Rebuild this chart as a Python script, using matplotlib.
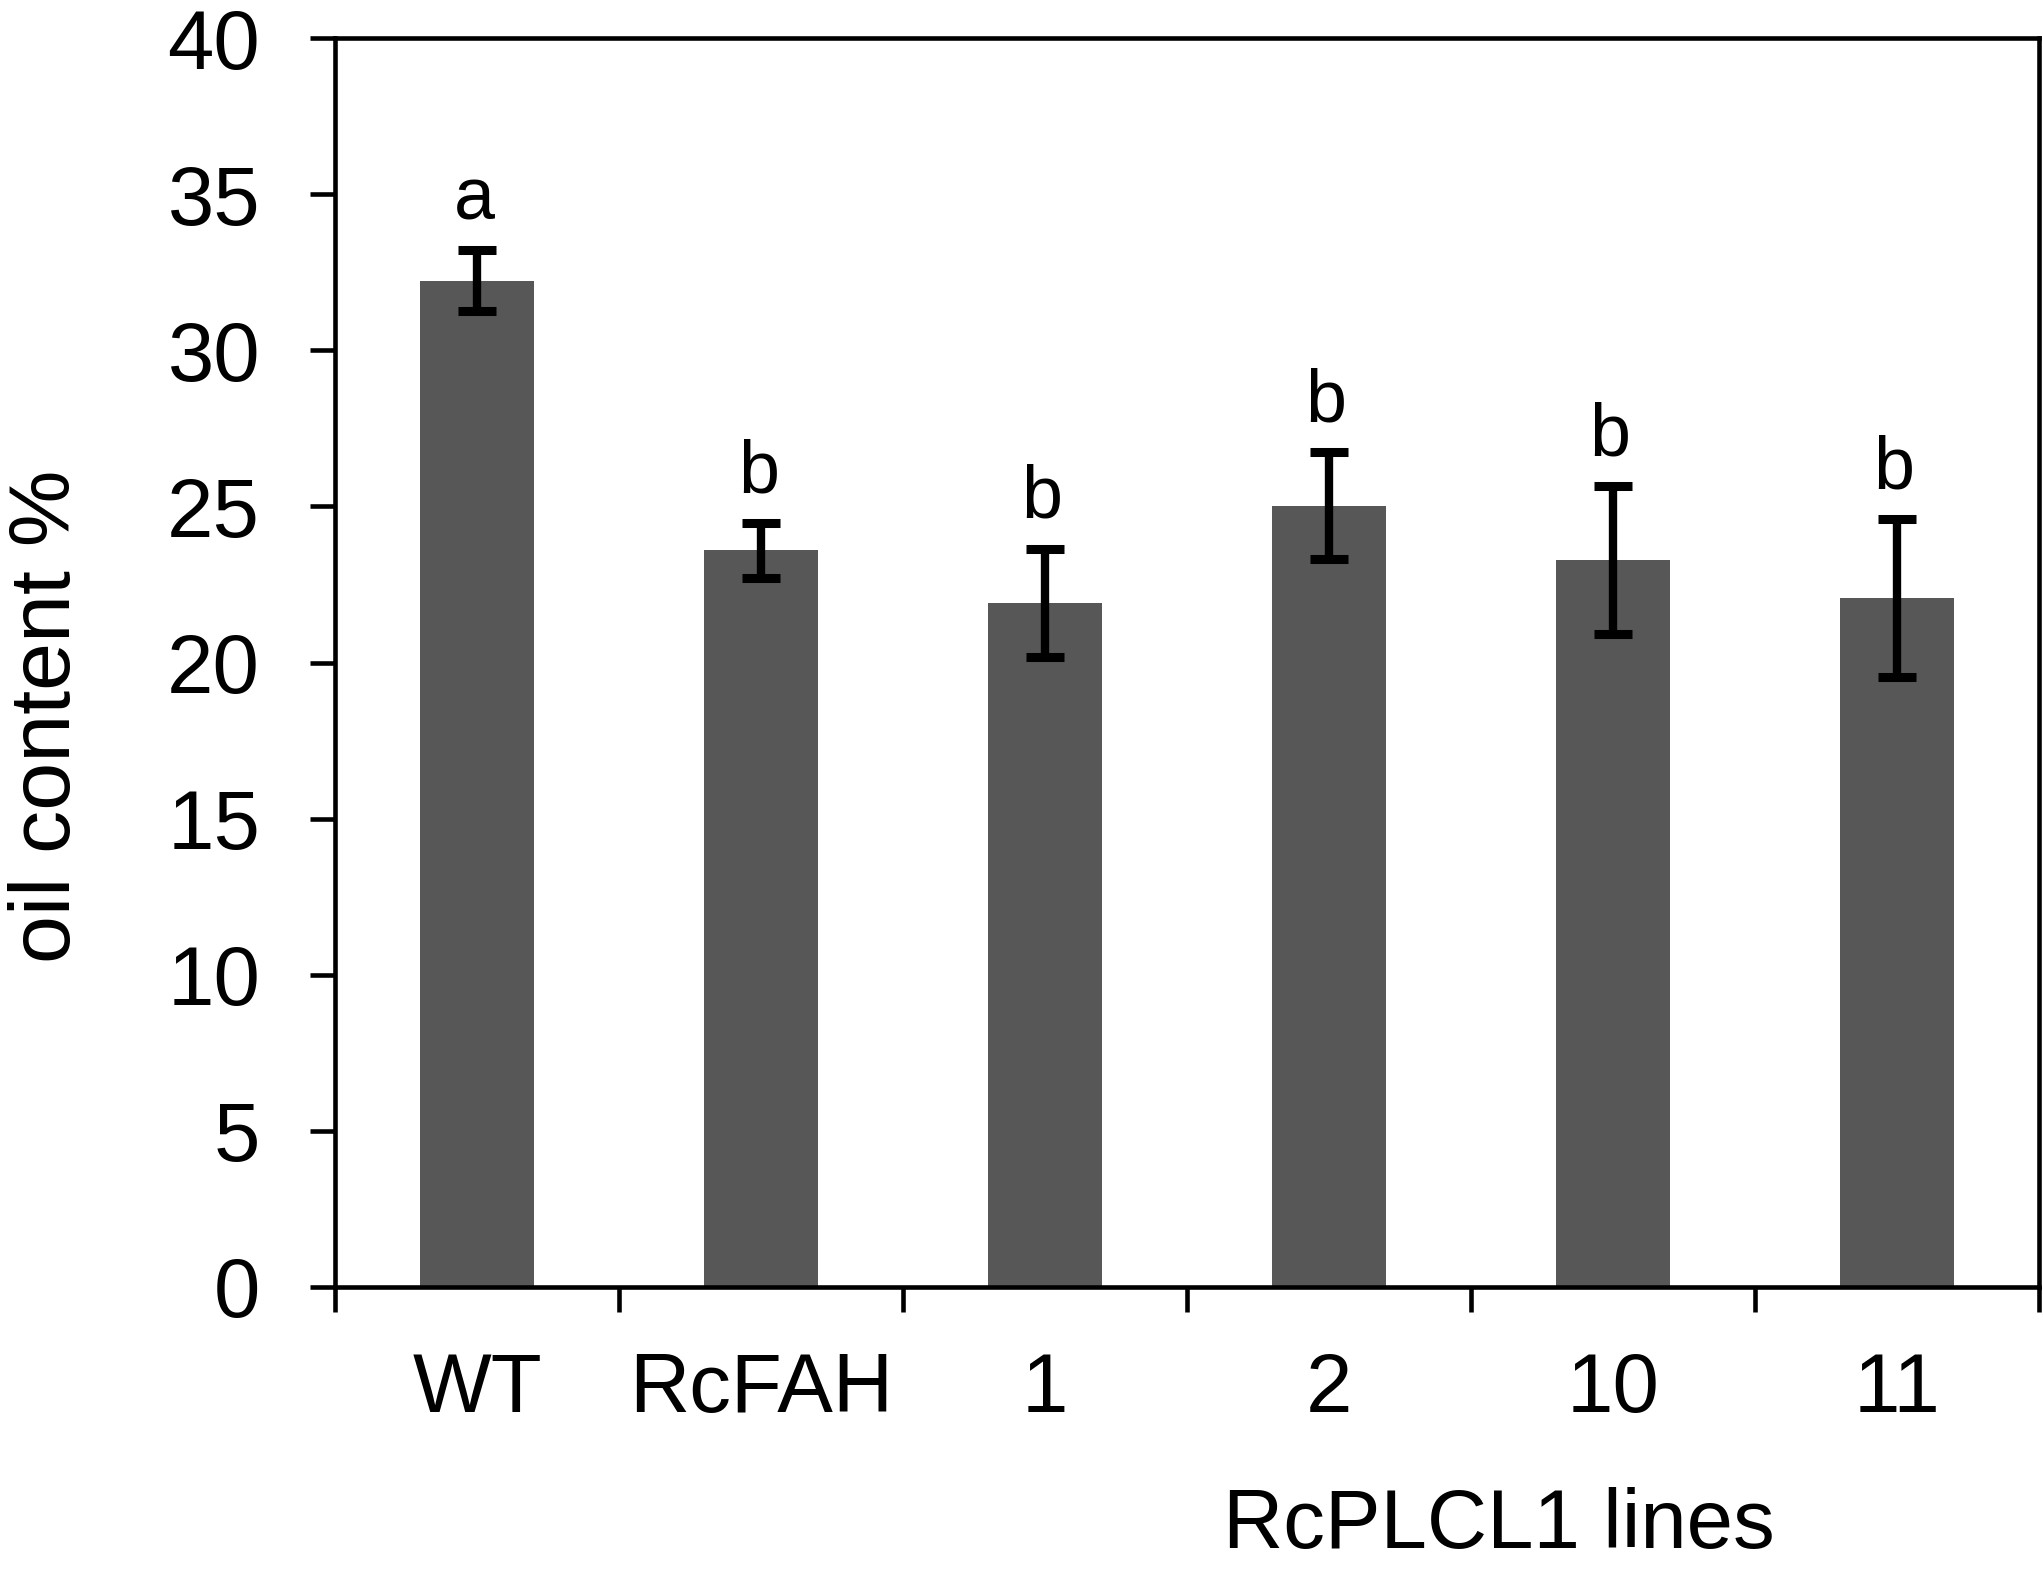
import matplotlib
matplotlib.use("Agg")
import matplotlib.pyplot as plt
import numpy as np

categories = ["WT", "RcFAH", "1", "2", "10", "11"]
oil_mean = [32.23, 23.59, 21.91, 25.02, 23.29, 22.07]
oil_err = [0.97, 0.87, 1.74, 1.71, 2.37, 2.52]
letters = ["a", "b", "b", "b", "b", "b"]

plt.rcParams['font.family'] = ['Liberation Sans', 'DejaVu Sans']

fig = plt.figure(figsize=(20.43, 15.72), dpi=100)
ax = fig.add_axes([0.164, 0.1813, 0.834, 0.7945])

x = np.arange(len(categories))
ax.bar(x, oil_mean, width=0.4, color="#575757", edgecolor="none")
ax.errorbar(x, oil_mean, yerr=oil_err, fmt="none", ecolor="black",
            elinewidth=6, capsize=13.5, capthick=6.5)

for xi, m, e, t in zip(x, oil_mean, oil_err, letters):
    ax.annotate(t, (xi, m + e), xytext=(-2, 22), textcoords="offset points",
                ha="center", va="baseline", fontsize=53)

ax.set_xlim(-0.5, len(categories) - 0.5)
ax.set_ylim(0, 40)
ax.set_yticks(np.arange(0, 41, 5))

# boundary ticks without labels, labels on minor ticks at bar centres
ax.set_xticks(np.arange(-0.5, len(categories), 1.0))
ax.set_xticklabels([])
ax.set_xticks(x, minor=True)
ax.set_xticklabels(categories, minor=True, fontsize=60)
ax.tick_params(axis="x", which="minor", length=0, pad=46)
ax.tick_params(axis="both", which="major", direction="out", length=18,
               width=3.3, labelsize=60)
ax.tick_params(axis="y", pad=36)

for s in ax.spines.values():
    s.set_linewidth(3.3)

ax.set_ylabel("oil content %", fontsize=62)
ax.yaxis.set_label_coords(-0.145, 0.457)
ax.set_xlabel("RcPLCL1 lines", fontsize=60, va="top")
ax.xaxis.set_label_coords(0.683, -0.16)

fig.savefig("out.png", dpi=100)
